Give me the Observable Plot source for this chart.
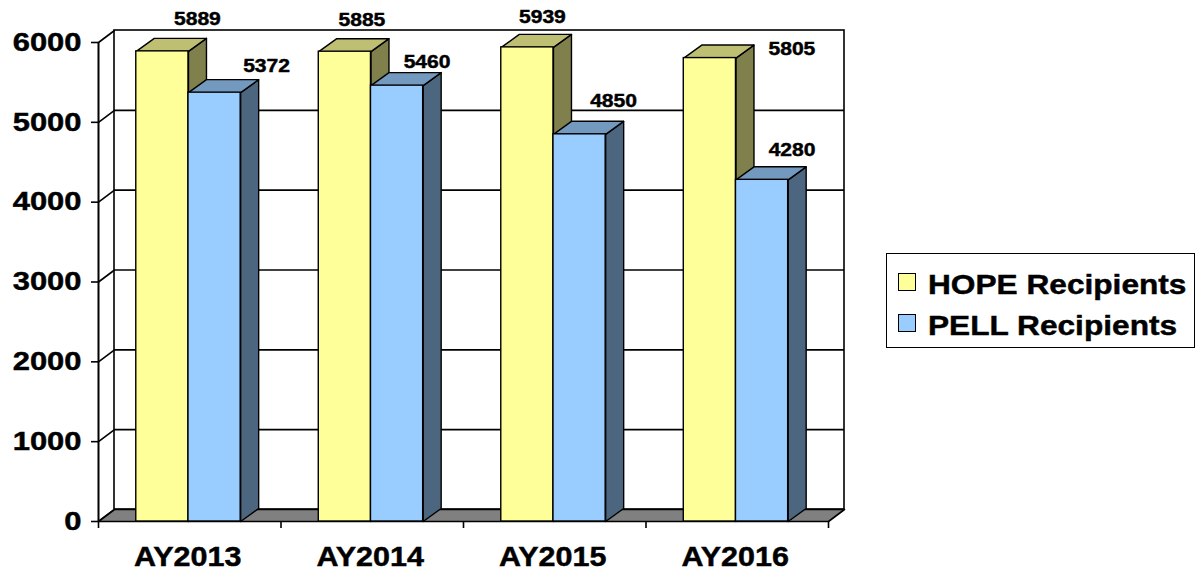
<!DOCTYPE html>
<html><head><meta charset="utf-8">
<script src="https://cdn.jsdelivr.net/npm/d3@7"></script>
<script src="https://cdn.jsdelivr.net/npm/@observablehq/plot@0.6"></script>
<style>
body{margin:0;background:#fff;}
#wrap{position:relative;width:1199px;height:573px;font-family:"Liberation Sans",Arial,sans-serif;font-weight:bold;color:#000;}
#wrap svg text{stroke:#000;stroke-width:0.45px;paint-order:stroke;}
#legend{position:absolute;left:886px;top:253px;width:307px;height:93px;border:1.5px solid #000;background:#fff;}
.item{position:absolute;left:11px;height:40px;}
.sw{position:absolute;left:0;width:16px;height:16px;border:1.2px solid #000;}
.lt{position:absolute;left:30px;top:0;font-size:28px;line-height:28px;white-space:nowrap;transform:scaleX(1.13);transform-origin:0 0;-webkit-text-stroke:0.45px #000;}
</style></head><body><div id="wrap"></div>
<script>
// ---- data ----
const years = ["AY2013", "AY2014", "AY2015", "AY2016"];
const seriesNames = ["HOPE Recipients", "PELL Recipients"];
const hope = [5889, 5885, 5939, 5805];
const pell = [5372, 5460, 4850, 4280];
const yTicks = [0, 1000, 2000, 3000, 4000, 5000, 6000];

// ---- layout / style ----
const W = 1199, H = 573, mL = 98, mR = W - 828, mT = 42, mB = 52;
const xPerPx = years.length / (W - mL - mR);
const yPerPx = 6000 / (H - mT - mB);
const wallDx = 16 * xPerPx, wallDy = 12 * yPerPx;
const barDx = 18 * xPerPx, barDy = 13 * yPerPx;
const barOff = [0.207, 0.493], barW = 0.286;
const frontColor = ["#ffff99", "#99ccff"], topColor = ["#bfbf73", "#7399bf"], sideColor = ["#80804d", "#4d6680"];
// label nudges in pixels relative to the centre of each bar's front top edge
const labelNudge = [
  [[35, -26], [17, -26], [15, -24], [82, -3]],
  [[52, -21], [30, -18], [34, -27], [30, -24]]
];

const values = [hope, pell];
const bars = [];
values.forEach((arr, s) => arr.forEach((v, i) => {
  const x0 = i + barOff[s], x1 = x0 + barW;
  bars.push({s, i, v, x0, x1});
}));

function polys(rows, fn) {
  return rows.flatMap((r, k) => fn(r).map(([x, y]) => ({x, y, id: k})));
}

const marks = [];
// back wall
marks.push(Plot.rect([0], {x1: wallDx, x2: years.length + wallDx, y1: wallDy, y2: 6000 + wallDy, fill: "#fff", stroke: "#000", strokeWidth: 1.6}));
// back wall gridlines
marks.push(Plot.ruleY(yTicks.slice(1, -1), {y: d => d + wallDy, x1: wallDx, x2: years.length + wallDx, stroke: "#000", strokeWidth: 1.6}));
// left wall diagonals
marks.push(Plot.link(yTicks, {x1: 0, y1: d => d, x2: wallDx, y2: d => d + wallDy, stroke: "#000", strokeWidth: 1.6}));
// floor
marks.push(Plot.line([[0, 0], [years.length, 0], [years.length + wallDx, wallDy], [wallDx, wallDy]], {x: d => d[0], y: d => d[1], curve: "linear-closed", fill: "#808080", stroke: "#000", strokeWidth: 1.6}));
// y axis line
marks.push(Plot.ruleX([0], {y1: 0, y2: 6000, stroke: "#000", strokeWidth: 2}));

// bars
for (let s = 0; s < 2; s++) {
  const rows = bars.filter(b => b.s === s);
  marks.push(Plot.line(polys(rows, b => [[b.x1, 0], [b.x1, b.v], [b.x1 + barDx, b.v + barDy], [b.x1 + barDx, barDy]]),
    {x: "x", y: "y", z: "id", curve: "linear-closed", fill: sideColor[s], stroke: "#000", strokeWidth: 1.4}));
  marks.push(Plot.line(polys(rows, b => [[b.x0, b.v], [b.x1, b.v], [b.x1 + barDx, b.v + barDy], [b.x0 + barDx, b.v + barDy]]),
    {x: "x", y: "y", z: "id", curve: "linear-closed", fill: topColor[s], stroke: "#000", strokeWidth: 1.4}));
  marks.push(Plot.rect(rows, {x1: "x0", x2: "x1", y1: 0, y2: "v", fill: frontColor[s], stroke: "#000", strokeWidth: 1.4}));
}

// value labels
marks.push(Plot.text(bars, {
  x: b => (b.x0 + b.x1) / 2 + labelNudge[b.s][b.i][0] * xPerPx,
  y: b => b.v - labelNudge[b.s][b.i][1] * yPerPx,
  text: b => String(b.v), lineAnchor: "bottom", textAnchor: "middle", fontSize: 18, fill: "#000",
  className: "vlab"
}));

// axes
marks.push(Plot.axisY(yTicks, {tickSize: 7, tickPadding: 10, fontSize: 26, tickFormat: d3.format("d"), label: null, strokeWidth: 1.6, className: "ylab"}));
marks.push(Plot.axisX(d3.range(years.length + 1), {tickSize: 7, tickFormat: () => "", label: null, strokeWidth: 1.6}));
marks.push(Plot.text(years, {x: (d, i) => i + 0.5, y: () => 0, dy: 44, dx: -2, lineAnchor: "bottom", textAnchor: "middle", fontSize: 27, fill: "#000", className: "xlab"}));

const chart = Plot.plot({
  width: W, height: H, marginLeft: mL, marginRight: mR, marginTop: mT, marginBottom: mB,
  x: {type: "linear", domain: [0, years.length]},
  y: {type: "linear", domain: [0, 6000]},
  style: {fontFamily: "Liberation Sans, Arial, sans-serif", fontWeight: "bold", color: "#000", background: "#fff", overflow: "visible"},
  marks
});
const wrap = document.getElementById("wrap");
wrap.appendChild(chart);

// widen the glyphs horizontally as in the reference
function stretch(selector, factor) {
  chart.querySelectorAll(selector).forEach(t => {
    const len = t.getComputedTextLength();
    t.setAttribute("textLength", (len * factor).toFixed(2));
    t.setAttribute("lengthAdjust", "spacingAndGlyphs");
  });
}
stretch(".vlab text", 1.17);
stretch(".ylab text", 1.19);
stretch(".xlab text", 1.13);

// legend
const legend = document.createElement("div");
legend.id = "legend";
seriesNames.forEach((name, s) => {
  const it = document.createElement("div");
  it.className = "item";
  it.style.top = (s === 0 ? 17 : 58) + "px";
  const sw = document.createElement("div");
  sw.className = "sw"; sw.style.background = frontColor[s]; sw.style.top = "2px";
  const t = document.createElement("div");
  t.className = "lt"; t.textContent = name;
  it.appendChild(sw); it.appendChild(t);
  legend.appendChild(it);
});
wrap.appendChild(legend);
</script>
</body></html>
